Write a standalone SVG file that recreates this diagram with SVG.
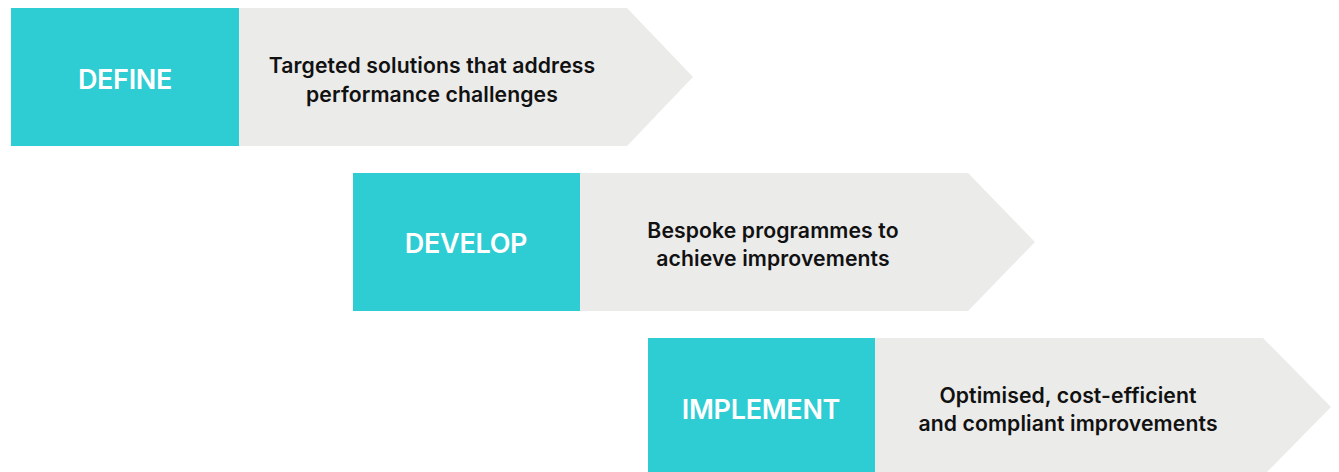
<svg xmlns="http://www.w3.org/2000/svg" width="1339" height="472" viewBox="0 0 1339 472">
<style>
.tag{fill:#2ECCD3}
.arrow{fill:#EBEBEA}
.title{font-family:Inter,"Liberation Sans",sans-serif;font-weight:600;font-size:27px;fill:#fff;text-anchor:middle;letter-spacing:-0.3px}
.desc{font-family:Inter,"Liberation Sans",sans-serif;font-weight:600;font-size:21.2px;fill:#111;text-anchor:middle;letter-spacing:0.1px}
</style>
<rect width="1339" height="472" fill="#fff"/>
<g id="define">
<polygon class="arrow" points="239,8 627,8 693,77 627,146 239,146"/>
<rect class="tag" x="11" y="8" width="228" height="138"/>
<text class="title" x="125" y="89">DEFINE</text>
<text class="desc" x="432" y="73">Targeted solutions that address</text>
<text class="desc" x="432" y="102">performance challenges</text>
</g>
<g id="develop">
<polygon class="arrow" points="580,173 968,173 1035,242 968,311 580,311"/>
<rect class="tag" x="353" y="173" width="227" height="138"/>
<text class="title" x="466" y="253">DEVELOP</text>
<text class="desc" x="773" y="238">Bespoke programmes to</text>
<text class="desc" x="773" y="266">achieve improvements</text>
</g>
<g id="implement">
<polygon class="arrow" points="875,338 1263,338 1331,407 1263,476 875,476"/>
<rect class="tag" x="648" y="338" width="227" height="138"/>
<text class="title" x="761" y="419">IMPLEMENT</text>
<text class="desc" x="1068" y="403">Optimised, cost-efficient</text>
<text class="desc" x="1068" y="431">and compliant improvements</text>
</g>
<g id="connectors"/>
</svg>
